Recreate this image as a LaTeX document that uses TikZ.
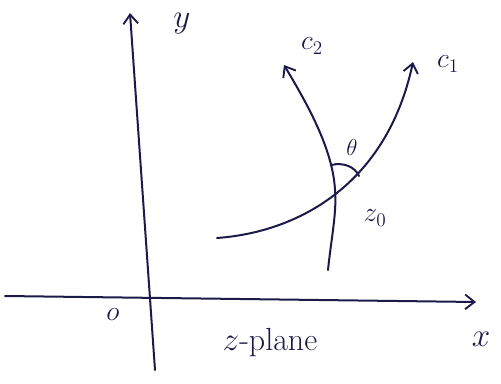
\documentclass[tikz,border=0pt]{standalone}
\usetikzlibrary{arrows.meta}
\definecolor{ink}{RGB}{28,26,72}
\begin{document}
\begin{tikzpicture}[x=0.75pt,y=-0.75pt,
  stroke/.style={draw=ink,line width=1.5pt,line cap=round},
  arr/.style={-{Straight Barb[length=7pt,width=11pt,line width=1.4pt]}},
  lbl/.style={text=ink,inner sep=1pt},
  big/.style={lbl,font=\fontsize{24}{26}\selectfont},
  mid/.style={lbl,font=\fontsize{20}{22}\selectfont}]
\useasboundingbox (0,0) rectangle (501,383);
% axes
\coordinate (ybot) at (155,370);
\coordinate (ytop) at (130,13);
\coordinate (xleft) at (5,296);
\coordinate (xright) at (476,302);
\draw[stroke,arr] (ybot) -- (ytop);
\draw[stroke,arr] (xleft) -- (xright);
\node[big] (ylab) at (182,24) {$y$};
\node[big] (xlab) at (481,339) {$x$};
\node[mid] (olab) at (113,315) {$o$};
\node[big] (plane) at (270,343) {$z$-plane};
% curves
\coordinate (c1s) at (217,238);
\coordinate (c1e) at (413,62);
\coordinate (c2s) at (328,270);
\coordinate (c2m) at (335,190);
\coordinate (c2e) at (284,65);
\draw[stroke,arr] (c1s) .. controls (300,232) and (387,183) .. (c1e);
\draw[stroke,arr] (c2s) .. controls (331,240) and (337,212) .. (c2m)
  .. controls (333,150) and (308,105) .. (c2e);
\node[mid] (c2lab) at (312,46) {$c_2$};
\node[mid] (c1lab) at (448,64) {$c_1$};
% angle
\coordinate (a1) at (331,165);
\coordinate (a2) at (359,176);
\draw[stroke] (a1) .. controls (344,162) and (355,167) .. (a2);
\node[lbl,font=\fontsize{17}{19}\selectfont] (th) at (352,147) {$\theta$};
\node[mid] (z0) at (375,218) {$z_0$};
\end{tikzpicture}
\end{document}
